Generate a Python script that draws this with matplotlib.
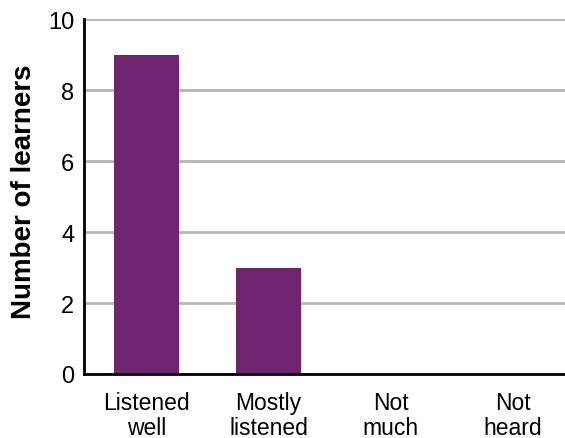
import numpy as np
import matplotlib.pyplot as plt

categories = ["Listened\nwell", "Mostly\nlistened", "Not\nmuch", "Not\nheard"]
learners = [9, 3, 0, 0]
yticks = [0, 2, 4, 6, 8, 10]

plt.rcParams['font.family'] = ['Liberation Sans', 'DejaVu Sans']

fig = plt.figure(figsize=(5.65, 4.39), dpi=100)
ax = fig.add_axes([0.1487, 0.1458, 1 - 0.1487, 0.954 - 0.1458])

x = np.arange(len(categories))
ax.bar(x, learners, width=0.533, color='#70236e', zorder=3)

ax.set_xlim(-0.512, 3.43)
ax.set_ylim(0, 10)
ax.set_yticks(yticks)
ax.set_xticks(x)
ax.set_xticklabels(categories, fontsize=16.5, linespacing=1.12)
ax.tick_params(axis='y', labelsize=17, length=0, pad=7)
ax.tick_params(axis='x', length=0, pad=12)
ax.yaxis.grid(True, color='#b5b5b5', linewidth=2, zorder=0)

for side in ['top', 'right']:
    ax.spines[side].set_visible(False)
for side in ['left', 'bottom']:
    ax.spines[side].set_linewidth(2)
    ax.spines[side].set_zorder(4)

ax.set_ylabel("Number of learners", fontsize=20, fontweight='bold', labelpad=8)
ax.yaxis.label.set_y(0.517)

fig.savefig("out.png", dpi=100)
